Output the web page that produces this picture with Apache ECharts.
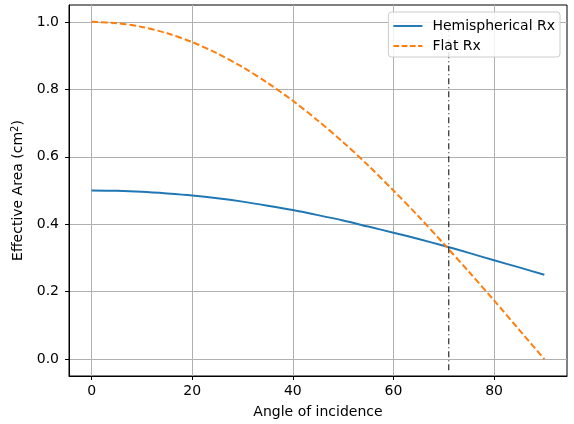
<!DOCTYPE html>
<html>
<head>
<meta charset="utf-8">
<script src="https://cdn.jsdelivr.net/npm/echarts@6/dist/echarts.min.js"></script>
<style>
  html, body { margin: 0; padding: 0; background: #fff; }
  #chart { width: 574px; height: 424px; }
</style>
</head>
<body>
<div id="chart"></div>
<script>
// Angle of incidence (degrees)
const angles = [0, 5, 10, 15, 20, 25, 30, 35, 40, 45, 50, 55, 60, 65, 70, 75, 80, 85, 90];
// Effective area of the hemispherical receiver (cm^2)
const hemisphericalRx = [0.500, 0.499, 0.496, 0.491, 0.485, 0.477, 0.467, 0.455, 0.442, 0.427,
                         0.411, 0.393, 0.375, 0.356, 0.336, 0.315, 0.293, 0.272, 0.250];
// Effective area of the flat receiver (cm^2)
const flatRx = [1.000, 0.996, 0.985, 0.966, 0.940, 0.906, 0.866, 0.819, 0.766, 0.707,
                0.643, 0.574, 0.500, 0.423, 0.342, 0.259, 0.174, 0.087, 0.000];
// Crossover angle marker and its vertical extent
const crossoverAngle = 71;
const crossoverSpan = [-0.033, 1.0];
// Tick values
const xTicks = [0, 20, 40, 60, 80];
const yTicks = [0, 0.2, 0.4, 0.6, 0.8, 1.0];

const seriesNames = ['Hemispherical Rx', 'Flat Rx'];
const font = 'DejaVu Sans';
const fs = 14;

// Legend glyphs: a solid stroke and a dashed stroke
const solidIcon = 'path://M0,0h30v2h-30z';
const dashedIcon = 'path://M0,0h6v2h-6z M8.5,0h6v2h-6z M17,0h6v2h-6z M25.5,0h4.5v2h-4.5z';

const chart = echarts.init(document.getElementById('chart'), null, { renderer: 'canvas' });

const toPairs = (xs, ys) => xs.map((x, i) => [x, ys[i]]);

chart.setOption({
  animation: false,
  backgroundColor: '#ffffff',
  textStyle: { fontFamily: font },
  grid: {
    left: 69, right: 7, top: 5, bottom: 47,
    show: true, borderColor: '#000', borderWidth: 1, backgroundColor: 'transparent'
  },
  legend: {
    right: 14, top: 12,
    orient: 'vertical',
    z: 20,
    backgroundColor: 'rgba(255,255,255,0.85)',
    borderColor: '#cccccc', borderWidth: 1, borderRadius: 3,
    padding: [6, 5, 3, 5],
    itemGap: 4,
    itemWidth: 29, itemHeight: 2,
    textStyle: { fontFamily: font, fontSize: fs, color: '#000', padding: [0, 0, 0, 5], lineHeight: 16 },
    data: [
      { name: seriesNames[0], icon: solidIcon, itemStyle: { color: '#1f77b4' } },
      { name: seriesNames[1], icon: dashedIcon, itemStyle: { color: '#ff7f0e' } }
    ]
  },
  xAxis: {
    type: 'value',
    min: -4.5, max: 94.5,
    name: 'Angle of incidence',
    nameLocation: 'middle', nameGap: 29,
    nameTextStyle: { fontFamily: font, fontSize: fs, color: '#000' },
    axisLine: { onZero: false, lineStyle: { color: '#000', width: 1 } },
    axisTick: { customValues: xTicks, length: 4, lineStyle: { color: '#000' } },
    axisLabel: { customValues: xTicks, fontFamily: font, fontSize: fs, color: '#000', margin: 8 },
    splitLine: { show: true, lineStyle: { color: '#b0b0b0', width: 1 } }
  },
  yAxis: {
    type: 'value',
    min: -0.05, max: 1.05,
    name: '{t|Effective Area (cm}{s|2}{t|)}',
    nameLocation: 'middle', nameGap: 35, nameRotate: 90,
    nameTextStyle: {
      fontFamily: font, fontSize: fs, color: '#000',
      rich: {
        t: { fontFamily: font, fontSize: fs, color: '#000' },
        s: { fontFamily: font, fontSize: 10, color: '#000', verticalAlign: 'top', padding: [0, 0, 6, 0] }
      }
    },
    axisLine: { onZero: false, lineStyle: { color: '#000', width: 1 } },
    axisTick: { customValues: yTicks, length: 4, lineStyle: { color: '#000' } },
    axisLabel: { customValues: yTicks, fontFamily: font, fontSize: fs, color: '#000', margin: 10,
                 formatter: v => v.toFixed(1) },
    splitLine: { show: true, lineStyle: { color: '#b0b0b0', width: 1 } }
  },
  series: [
    {
      name: seriesNames[0],
      type: 'line',
      data: toPairs(angles, hemisphericalRx),
      smooth: 0.3,
      symbol: 'none',
      itemStyle: { color: '#1f77b4' },
      lineStyle: { color: '#1f77b4', width: 2 },
      z: 3
    },
    {
      name: seriesNames[1],
      type: 'line',
      data: toPairs(angles, flatRx),
      smooth: 0.3,
      symbol: 'none',
      itemStyle: { color: '#ff7f0e' },
      lineStyle: { color: '#ff7f0e', width: 2, type: [6.5, 3] },
      z: 3
    },
    {
      name: 'crossover',
      type: 'line',
      data: crossoverSpan.map(y => [crossoverAngle, y]),
      symbol: 'none',
      silent: true,
      lineStyle: { color: '#000', width: 1, type: [6, 3, 1, 3] },
      z: 4
    }
  ]
});
</script>
</body>
</html>
